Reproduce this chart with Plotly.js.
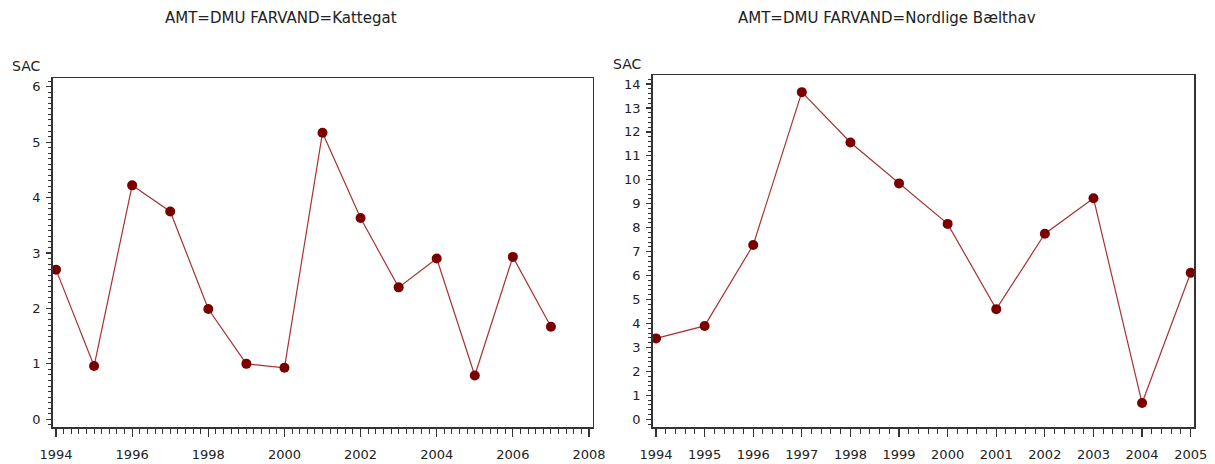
<!DOCTYPE html>
<html>
<head>
<meta charset="utf-8">
<script src="https://cdn.plot.ly/plotly-3.0.1.min.js"></script>
<style>html,body{margin:0;padding:0;background:#fff;}#chart{width:1215px;height:464px;}</style>
</head>
<body>
<div id="chart"></div>
<script>
// Panel 1: Kattegat
const yearsKattegat = [1994,1995,1996,1997,1998,1999,2000,2001,2002,2003,2004,2005,2006,2007];
const sacKattegat   = [2.70,0.96,4.22,3.75,1.99,1.00,0.93,5.17,3.63,2.38,2.90,0.79,2.93,1.67];
// Panel 2: Nordlige Bælthav
const yearsBaelthav = [1994,1995,1996,1997,1998,1999,2000,2001,2002,2003,2004,2005];
const sacBaelthav   = [3.38,3.90,7.28,13.66,11.56,9.85,8.16,4.60,7.75,9.23,0.68,6.12];

const titles = ["AMT=DMU FARVAND=Kattegat", "AMT=DMU FARVAND=Nordlige Bælthav"];
const yLabel = "SAC";
const xTicksLeft = [1994,1996,1998,2000,2002,2004,2006,2008];
const xTicksRight = [1994,1995,1996,1997,1998,1999,2000,2001,2002,2003,2004,2005];
const yTicksLeft = [0,1,2,3,4,5,6];
const yTicksRight = [0,1,2,3,4,5,6,7,8,9,10,11,12,13,14];

const W = 1215, H = 464;
const FONT = "DejaVu Sans, Arial, sans-serif";
const lineCol = "#a83232", markCol = "#7a0000", axCol = "#333", txtCol = "#222";

function trace(x, y, xa, ya) {
  return {x: x, y: y, xaxis: xa, yaxis: ya, type: 'scatter', mode: 'lines+markers',
    line: {color: lineCol, width: 1.2}, marker: {color: markCol, size: 10}, hoverinfo: 'skip', showlegend: false};
}

function xaxis(dom, range, ticks, anchor) {
  return {domain: dom, range: range, anchor: anchor, tickmode: 'array', tickvals: ticks, ticktext: ticks.map(String),
    showgrid: false, zeroline: false, showline: true, mirror: true, linecolor: axCol, linewidth: 1.5,
    ticks: 'outside', ticklen: 8, tickwidth: 1.2, tickcolor: axCol, ticklabelstandoff: 7,
    minor: {ticks: 'outside', ticklen: 5, tickwidth: 1, tickcolor: axCol, dtick: 0.2, tick0: 1994, showgrid: false},
    tickfont: {family: FONT, size: 13, color: txtCol}, fixedrange: true};
}
function yaxis(dom, range, ticks, anchor, minorDt) {
  return {domain: dom, range: range, anchor: anchor, tickmode: 'array', tickvals: ticks, ticktext: ticks.map(String),
    showgrid: false, zeroline: false, showline: true, mirror: true, linecolor: axCol, linewidth: 1.5,
    ticks: 'outside', ticklen: 5, tickwidth: 1.2, tickcolor: axCol, ticklabelstandoff: 3,
    minor: {ticks: 'outside', ticklen: 3, tickwidth: 1, tickcolor: axCol, dtick: minorDt, tick0: 0, showgrid: false},
    tickfont: {family: FONT, size: 13, color: txtCol}, fixedrange: true};
}

const data = [
  trace(yearsKattegat, sacKattegat, 'x', 'y'),
  trace(yearsBaelthav, sacBaelthav, 'x2', 'y2')
];

const layout = {
  width: W, height: H, margin: {l: 0, r: 0, t: 0, b: 0},
  paper_bgcolor: '#fff', plot_bgcolor: '#fff',
  xaxis:  xaxis([52.7/W, 592.7/W], [1993.913, 2008.097], xTicksLeft, 'y'),
  yaxis:  yaxis([1-427/H, 1-78/H], [-0.139, 6.157], yTicksLeft, 'x', 0.1),
  xaxis2: xaxis([652.7/W, 1194/W], [1993.932, 2005.068], xTicksRight, 'y2'),
  yaxis2: yaxis([1-427/H, 1-75/H], [-0.32, 14.376], yTicksRight, 'x2', 0.2),
  annotations: [
    {text: titles[0], xref: 'paper', yref: 'paper', x: 281/W, y: 1-18/H, xanchor: 'center', yanchor: 'middle', showarrow: false, font: {family: FONT, size: 15, color: txtCol}},
    {text: titles[1], xref: 'paper', yref: 'paper', x: 887/W, y: 1-18/H, xanchor: 'center', yanchor: 'middle', showarrow: false, font: {family: FONT, size: 15, color: txtCol}},
    {text: yLabel, xref: 'paper', yref: 'paper', x: 10/W, y: 1-66/H, xanchor: 'left', yanchor: 'middle', showarrow: false, font: {family: FONT, size: 14, color: txtCol}},
    {text: yLabel, xref: 'paper', yref: 'paper', x: 611/W, y: 1-64/H, xanchor: 'left', yanchor: 'middle', showarrow: false, font: {family: FONT, size: 14, color: txtCol}}
  ]
};

Plotly.newPlot('chart', data, layout, {displayModeBar: false, staticPlot: true});
</script>
</body>
</html>
